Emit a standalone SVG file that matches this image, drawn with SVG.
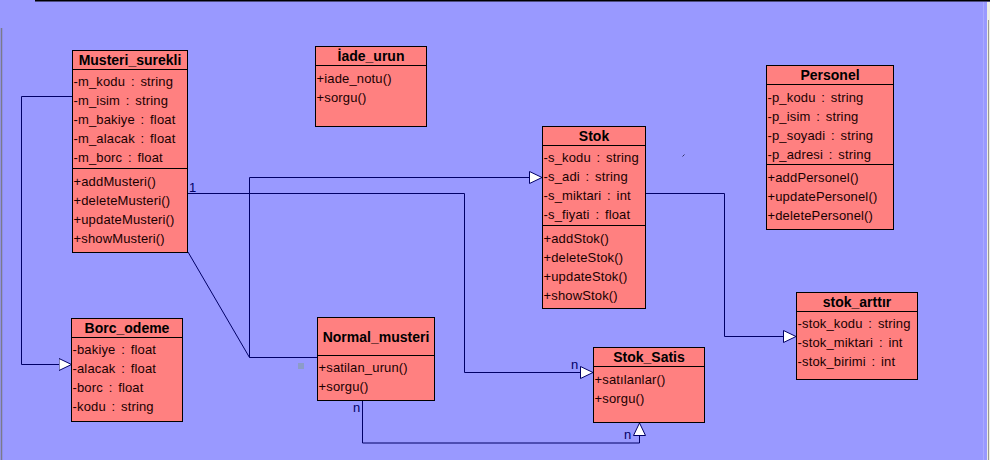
<svg xmlns="http://www.w3.org/2000/svg" width="990" height="460" viewBox="0 0 990 460">
<style>
.box{fill:#FF8080;stroke:#000;stroke-width:1}
.sep{stroke:#000;stroke-width:1}
.title{font-family:"Liberation Sans",Arial,sans-serif;font-size:14px;font-weight:bold;fill:#000;text-anchor:middle}
.txt{font-family:"Liberation Sans",Arial,sans-serif;font-size:13px;fill:#1a0000;word-spacing:2px;letter-spacing:0.15px}
.conn{fill:none;stroke:#000066;stroke-width:1}
.lbl{font-family:"Liberation Sans",Arial,sans-serif;font-size:13px;fill:#000066}
</style>
<defs>
<marker id="tri" viewBox="0 0 14 13" refX="13" refY="6.5" markerWidth="14" markerHeight="13" markerUnits="userSpaceOnUse" orient="auto">
<path d="M0.5,0.5 L13,6.5 L0.5,12.5 Z" fill="#fff" stroke="#000066" stroke-width="1"/>
</marker>
</defs>
<rect x="0" y="0" width="990" height="460" fill="#9999FF"/>
<rect x="35" y="0" width="955" height="1.5" fill="#000"/>
<line x1="1.5" y1="28" x2="1.5" y2="460" stroke="#7a7a8a" stroke-width="1.5"/>
<line x1="983.5" y1="2" x2="983.5" y2="460" stroke="#aaaaff" stroke-width="1"/>
<rect x="987" y="2" width="3" height="458" fill="#eeeee6"/>
<line x1="988.5" y1="20" x2="988.5" y2="460" stroke="#9a9a90" stroke-width="1"/>

<g id="connectors">
<path class="conn" d="M72,96.5 H21.5 V364.5 H71.5" marker-end="url(#tri)"/>
<path class="conn" d="M188,193.5 H464.5 V372.5 H593" marker-end="url(#tri)"/>
<path class="conn" d="M317,357.5 H249.5 V177.5 H542" marker-end="url(#tri)"/>
<path class="conn" d="M188,252 L249.5,357.5"/>
<path class="conn" d="M362.5,401 V443 H639.5 V423" marker-end="url(#tri)"/>
<path class="conn" d="M645,193.5 H724.5 V336.5 H796" marker-end="url(#tri)"/>
<text class="lbl" x="189" y="192">1</text>
<text class="lbl" x="571" y="369">n</text>
<text class="lbl" x="353" y="412">n</text>
<text class="lbl" x="624" y="439">n</text>
</g>

<rect x="298" y="363" width="6" height="6" fill="#8c9cc8"/>
<line x1="682.5" y1="156.5" x2="684.5" y2="154.5" stroke="#333366" stroke-width="1"/>

<g id="Musteri_surekli">
<rect class="box" x="72.5" y="50.5" width="115" height="202"/>
<line class="sep" x1="72.5" y1="69.5" x2="187.5" y2="69.5"/>
<line class="sep" x1="72.5" y1="168.5" x2="187.5" y2="168.5"/>
<text class="title" x="130" y="65">Musteri_surekli</text>
<text class="txt" x="73.5" y="86">-m_kodu : string</text>
<text class="txt" x="73.5" y="105">-m_isim : string</text>
<text class="txt" x="73.5" y="124">-m_bakiye : float</text>
<text class="txt" x="73.5" y="143">-m_alacak : float</text>
<text class="txt" x="73.5" y="162">-m_borc : float</text>
<text class="txt" x="73.5" y="186">+addMusteri()</text>
<text class="txt" x="73.5" y="205">+deleteMusteri()</text>
<text class="txt" x="73.5" y="224">+updateMusteri()</text>
<text class="txt" x="73.5" y="243">+showMusteri()</text>
</g>

<g id="Iade_urun">
<rect class="box" x="315.5" y="46.5" width="111" height="80"/>
<line class="sep" x1="315.5" y1="65.5" x2="426.5" y2="65.5"/>
<text class="title" x="371" y="61">İade_urun</text>
<text class="txt" x="316.5" y="83">+iade_notu()</text>
<text class="txt" x="316.5" y="102">+sorgu()</text>
</g>

<g id="Stok">
<rect class="box" x="542.5" y="126.5" width="103" height="182"/>
<line class="sep" x1="542.5" y1="145.5" x2="645.5" y2="145.5"/>
<line class="sep" x1="542.5" y1="225.5" x2="645.5" y2="225.5"/>
<text class="title" x="594" y="141">Stok</text>
<text class="txt" x="543.5" y="162">-s_kodu : string</text>
<text class="txt" x="543.5" y="181">-s_adi : string</text>
<text class="txt" x="543.5" y="200">-s_miktari : int</text>
<text class="txt" x="543.5" y="219">-s_fiyati : float</text>
<text class="txt" x="543.5" y="243">+addStok()</text>
<text class="txt" x="543.5" y="262">+deleteStok()</text>
<text class="txt" x="543.5" y="281">+updateStok()</text>
<text class="txt" x="543.5" y="300">+showStok()</text>
</g>

<g id="Personel">
<rect class="box" x="766.5" y="65.5" width="127" height="164"/>
<line class="sep" x1="766.5" y1="84.5" x2="893.5" y2="84.5"/>
<line class="sep" x1="766.5" y1="164.5" x2="893.5" y2="164.5"/>
<text class="title" x="830" y="80">Personel</text>
<text class="txt" x="767.5" y="102">-p_kodu : string</text>
<text class="txt" x="767.5" y="121">-p_isim : string</text>
<text class="txt" x="767.5" y="140">-p_soyadi : string</text>
<text class="txt" x="767.5" y="159">-p_adresi : string</text>
<text class="txt" x="767.5" y="182">+addPersonel()</text>
<text class="txt" x="767.5" y="201">+updatePersonel()</text>
<text class="txt" x="767.5" y="220">+deletePersonel()</text>
</g>

<g id="stok_arttir">
<rect class="box" x="796.5" y="292.5" width="121" height="87"/>
<line class="sep" x1="796.5" y1="311.5" x2="917.5" y2="311.5"/>
<text class="title" x="857" y="307">stok_arttır</text>
<text class="txt" x="797.5" y="328">-stok_kodu : string</text>
<text class="txt" x="797.5" y="347">-stok_miktari : int</text>
<text class="txt" x="797.5" y="366">-stok_birimi : int</text>
</g>

<g id="Borc_odeme">
<rect class="box" x="71.5" y="318.5" width="111" height="103"/>
<line class="sep" x1="71.5" y1="337.5" x2="182.5" y2="337.5"/>
<text class="title" x="127" y="333">Borc_odeme</text>
<text class="txt" x="72.5" y="354">-bakiye : float</text>
<text class="txt" x="72.5" y="373">-alacak : float</text>
<text class="txt" x="72.5" y="392">-borc : float</text>
<text class="txt" x="72.5" y="411">-kodu : string</text>
</g>

<g id="Normal_musteri">
<rect class="box" x="317.5" y="317.5" width="117" height="83"/>
<line class="sep" x1="317.5" y1="355.5" x2="434.5" y2="355.5"/>
<text class="title" x="376" y="342">Normal_musteri</text>
<text class="txt" x="318.5" y="372">+satilan_urun()</text>
<text class="txt" x="318.5" y="391">+sorgu()</text>
</g>

<g id="Stok_Satis">
<rect class="box" x="593.5" y="347.5" width="111" height="75"/>
<line class="sep" x1="593.5" y1="366.5" x2="704.5" y2="366.5"/>
<text class="title" x="649" y="362">Stok_Satis</text>
<text class="txt" x="594.5" y="384">+satılanlar()</text>
<text class="txt" x="594.5" y="403">+sorgu()</text>
</g>
</svg>
